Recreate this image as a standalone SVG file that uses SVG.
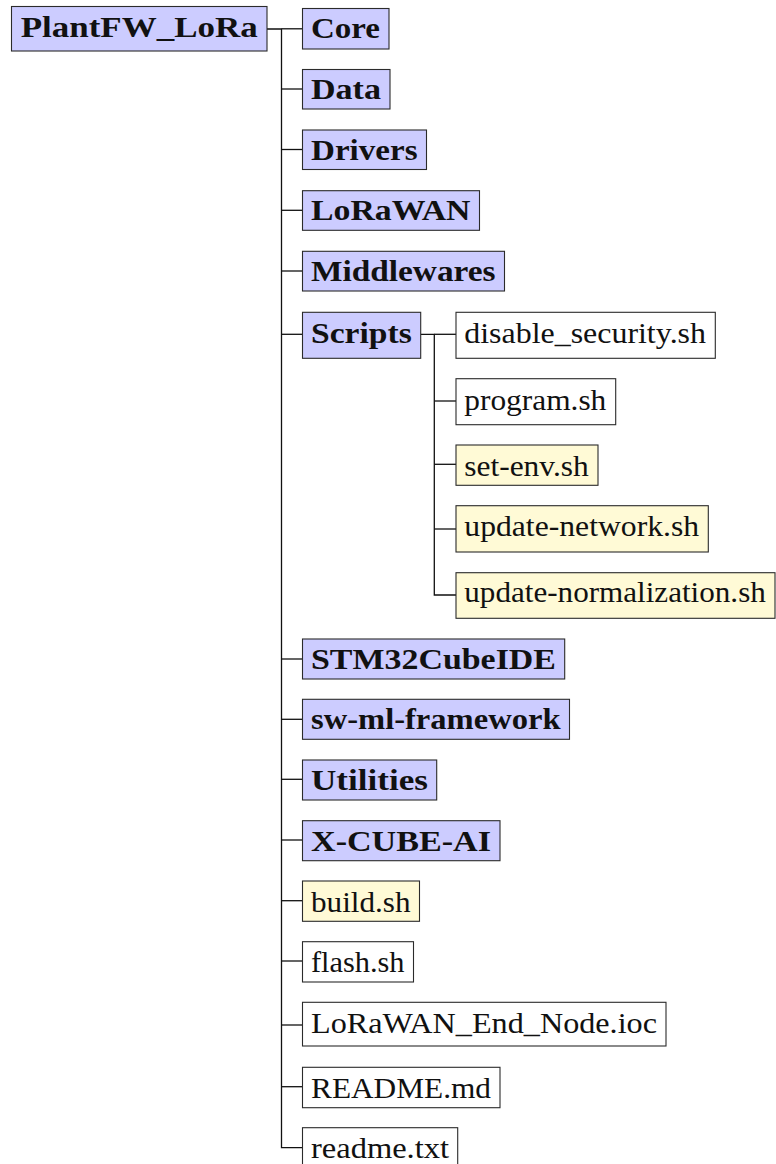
<svg xmlns="http://www.w3.org/2000/svg" width="776" height="1164" viewBox="0 0 776 1164">
  <style>
    .dir { fill: #ccccff; stroke: #2b2b2b; stroke-width: 1.1; }
    .file { fill: #ffffff; stroke: #2b2b2b; stroke-width: 1.1; }
    .hl { fill: #fffad6; stroke: #2b2b2b; stroke-width: 1.1; }
    .lbl { font-family: 'Liberation Serif', 'DejaVu Serif', serif; font-size: 29.5px; fill: #111; }
    .bold { font-weight: bold; }
    .edge { fill: none; stroke: #111; stroke-width: 1.3; }
  </style>
  <rect width="776" height="1164" fill="#ffffff"/>

  <!-- tree connectors -->
  <g id="connectors">
    <path class="edge" d="M267 29 H281.5 V1147.7 H302.5"/>
    <path class="edge" d="M281.5 28.8 H302.5"/>
    <path class="edge" d="M281.5 89 H302.5"/>
    <path class="edge" d="M281.5 149.5 H302.5"/>
    <path class="edge" d="M281.5 210.3 H302.5"/>
    <path class="edge" d="M281.5 271 H302.5"/>
    <path class="edge" d="M281.5 334.3 H302.5"/>
    <path class="edge" d="M281.5 659 H302.5"/>
    <path class="edge" d="M281.5 719.3 H302.5"/>
    <path class="edge" d="M281.5 779.3 H302.5"/>
    <path class="edge" d="M281.5 840 H302.5"/>
    <path class="edge" d="M281.5 900.7 H302.5"/>
    <path class="edge" d="M281.5 961 H302.5"/>
    <path class="edge" d="M281.5 1025 H302.5"/>
    <path class="edge" d="M281.5 1086.7 H302.5"/>
    <!-- Scripts subtree -->
    <path class="edge" d="M420.7 334.3 H434.3 V595 H456"/>
    <path class="edge" d="M434.3 334.3 H456"/>
    <path class="edge" d="M434.3 401 H456"/>
    <path class="edge" d="M434.3 464.3 H456"/>
    <path class="edge" d="M434.3 529 H456"/>
  </g>

  <g id="root">
    <rect class="dir" x="11.5" y="6.5" width="255.5" height="44.5"/>
    <text class="lbl bold" x="20.7" y="36.7" textLength="237" lengthAdjust="spacingAndGlyphs">PlantFW_LoRa</text>
  </g>

  <g id="core">
    <rect class="dir" x="302.5" y="8.5" width="86.5" height="40.5"/>
    <text class="lbl bold" x="311" y="38.3" textLength="69" lengthAdjust="spacingAndGlyphs">Core</text>
  </g>
  <g id="data">
    <rect class="dir" x="302.5" y="69.5" width="87.5" height="39.5"/>
    <text class="lbl bold" x="311" y="99" textLength="70" lengthAdjust="spacingAndGlyphs">Data</text>
  </g>
  <g id="drivers">
    <rect class="dir" x="302.5" y="130" width="124" height="39.5"/>
    <text class="lbl bold" x="311" y="159.5" textLength="106.5" lengthAdjust="spacingAndGlyphs">Drivers</text>
  </g>
  <g id="lorawan">
    <rect class="dir" x="302.5" y="190.7" width="177" height="39.6"/>
    <text class="lbl bold" x="311" y="220.3" textLength="159.5" lengthAdjust="spacingAndGlyphs">LoRaWAN</text>
  </g>
  <g id="middlewares">
    <rect class="dir" x="302.5" y="251.3" width="202" height="39.7"/>
    <text class="lbl bold" x="311" y="281" textLength="184.5" lengthAdjust="spacingAndGlyphs">Middlewares</text>
  </g>
  <g id="scripts">
    <rect class="dir" x="302.5" y="312.3" width="118.2" height="46"/>
    <text class="lbl bold" x="311" y="342.5" textLength="100.7" lengthAdjust="spacingAndGlyphs">Scripts</text>
  </g>

  <g id="disable-security">
    <rect class="file" x="456" y="312.3" width="259.3" height="46"/>
    <text class="lbl" x="464.3" y="342.6" textLength="241.7" lengthAdjust="spacingAndGlyphs">disable_security.sh</text>
  </g>
  <g id="program">
    <rect class="file" x="456" y="378.7" width="159.7" height="46"/>
    <text class="lbl" x="464.3" y="409.5" textLength="142" lengthAdjust="spacingAndGlyphs">program.sh</text>
  </g>
  <g id="set-env">
    <rect class="hl" x="456" y="445" width="142" height="40.3"/>
    <text class="lbl" x="464.3" y="475.5" textLength="124.5" lengthAdjust="spacingAndGlyphs">set-env.sh</text>
  </g>
  <g id="update-network">
    <rect class="hl" x="456" y="505.7" width="252.3" height="46.3"/>
    <text class="lbl" x="464.3" y="535.7" textLength="234.8" lengthAdjust="spacingAndGlyphs">update-network.sh</text>
  </g>
  <g id="update-normalization">
    <rect class="hl" x="456" y="572.7" width="319" height="45.6"/>
    <text class="lbl" x="464.3" y="601.7" textLength="301.5" lengthAdjust="spacingAndGlyphs">update-normalization.sh</text>
  </g>

  <g id="stm32cubeide">
    <rect class="dir" x="302.5" y="639" width="262.2" height="40"/>
    <text class="lbl bold" x="311" y="669" textLength="245" lengthAdjust="spacingAndGlyphs">STM32CubeIDE</text>
  </g>
  <g id="sw-ml-framework">
    <rect class="dir" x="302.5" y="699.3" width="267" height="40"/>
    <text class="lbl bold" x="311" y="729.3" textLength="249.5" lengthAdjust="spacingAndGlyphs">sw-ml-framework</text>
  </g>
  <g id="utilities">
    <rect class="dir" x="302.5" y="760" width="134.2" height="40"/>
    <text class="lbl bold" x="311" y="790" textLength="117" lengthAdjust="spacingAndGlyphs">Utilities</text>
  </g>
  <g id="x-cube-ai">
    <rect class="dir" x="302.5" y="820.7" width="197.5" height="40"/>
    <text class="lbl bold" x="311" y="850.7" textLength="180" lengthAdjust="spacingAndGlyphs">X-CUBE-AI</text>
  </g>

  <g id="build">
    <rect class="hl" x="302.5" y="881" width="117" height="40.3"/>
    <text class="lbl" x="311" y="911.7" textLength="99.5" lengthAdjust="spacingAndGlyphs">build.sh</text>
  </g>
  <g id="flash">
    <rect class="file" x="302.5" y="941.7" width="111" height="40.3"/>
    <text class="lbl" x="311" y="972.3" textLength="93.5" lengthAdjust="spacingAndGlyphs">flash.sh</text>
  </g>
  <g id="ioc">
    <rect class="file" x="302.5" y="1002.3" width="363.5" height="43.7"/>
    <text class="lbl" x="311" y="1033.3" textLength="346" lengthAdjust="spacingAndGlyphs">LoRaWAN_End_Node.ioc</text>
  </g>
  <g id="readme-md">
    <rect class="file" x="302.5" y="1067.3" width="197.5" height="40.4"/>
    <text class="lbl" x="311" y="1098.3" textLength="180" lengthAdjust="spacingAndGlyphs">README.md</text>
  </g>
  <g id="readme-txt">
    <rect class="file" x="302.5" y="1127.7" width="155.2" height="42"/>
    <text class="lbl" x="311" y="1158.3" textLength="138" lengthAdjust="spacingAndGlyphs">readme.txt</text>
  </g>
</svg>
